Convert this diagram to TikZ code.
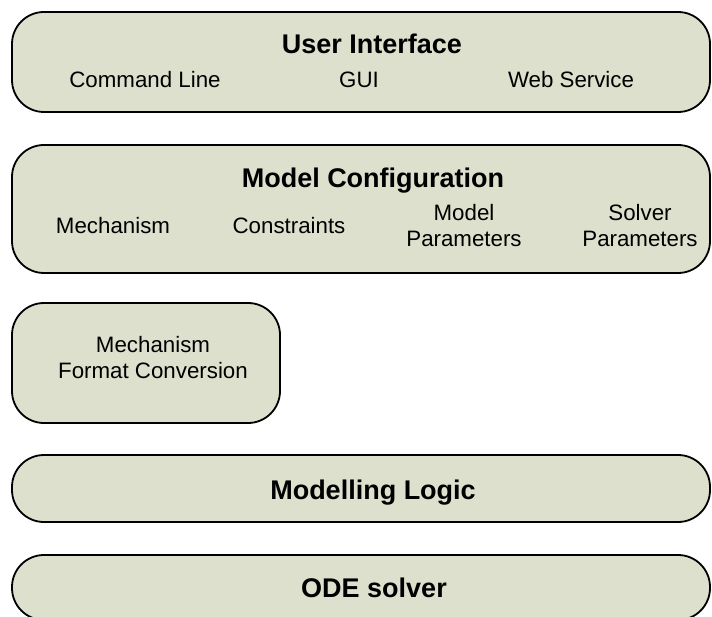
\documentclass[tikz,border=0pt]{standalone}
\usepackage{fontspec}
\setmainfont{Liberation Sans}
\usepackage{xcolor}
\definecolor{layerfill}{RGB}{220,224,204}

\begin{document}
\begin{tikzpicture}[
    x=1pt, y=-1pt,
    layer/.style={draw=black, fill=layerfill, line width=1.8pt, rounded corners=32pt, inner sep=0pt, outer sep=0pt},
    title/.style={font=\fontsize{27}{31}\selectfont\bfseries, anchor=base},
    item/.style={font=\fontsize{22.3}{26}\selectfont, anchor=base, align=center}
]
\useasboundingbox (0,0) rectangle (712,617);
% User interface layer
\node[layer, minimum width=698pt, minimum height=100pt] (ui) at (361,62) {};
\node[title] (uiT) at (372,54) {User Interface};
\node[item] (cmd) at (145,88) {Command Line};
\node[item] (gui) at (359,88) {GUI};
\node[item] (web) at (571,88) {Web Service};
% Model configuration layer
\node[layer, minimum width=698pt, minimum height=128pt] (mc) at (361,209) {};
\node[title] (mcT) at (373,188) {Model Configuration};
\node[item] (mech) at (113,234) {Mechanism};
\node[item] (cons) at (289,234) {Constraints};
% two-line items: base anchor sits on the last line
\node[item] (mpar) at (464,247) {Model\\Parameters};
\node[item] (spar) at (640,247) {Solver\\Parameters};
% Format conversion
\node[layer, minimum width=268pt, minimum height=120pt] (fc) at (146,363) {};
\node[item] (fcT) at (153,379) {Mechanism\\Format Conversion};
% Modelling logic layer
\node[layer, minimum width=698pt, minimum height=67pt] (ml) at (361,488.5) {};
\node[title] (mlT) at (373,499) {Modelling Logic};
% ODE solver layer
\node[layer, minimum width=698pt, minimum height=65pt] (ode) at (361,587.5) {};
\node[title] (odeT) at (374,597) {ODE solver};
\end{tikzpicture}
\end{document}
